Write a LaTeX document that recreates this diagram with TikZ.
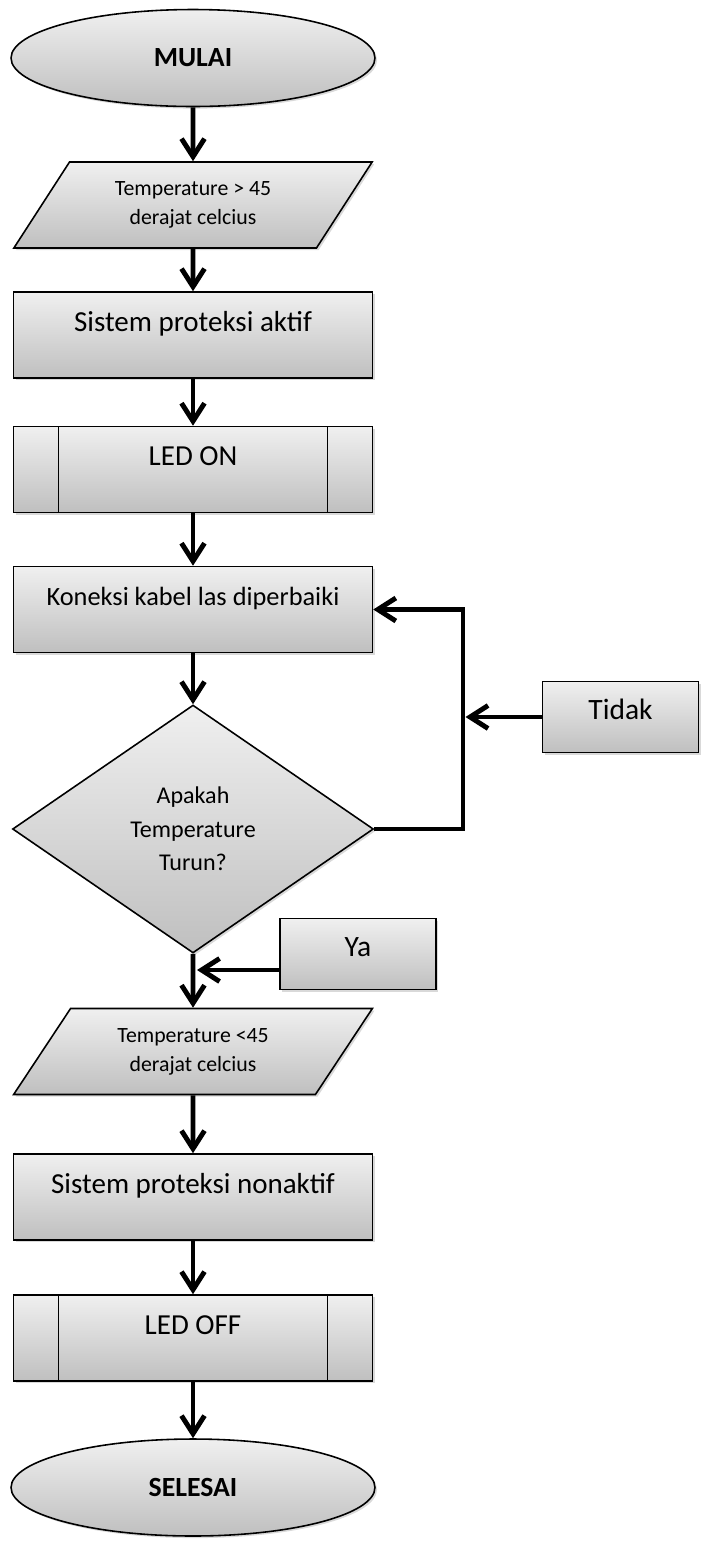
\documentclass[tikz,border=0pt]{standalone}
\usepackage{fontspec}
\setmainfont{Carlito}
\usetikzlibrary{shapes.geometric, arrows.meta, shadows}
\tikzstyle{base} = [draw=black, line width=0.9pt, top color=gray!12, bottom color=gray!50, drop shadow={shadow xshift=1.2pt, shadow yshift=-1.2pt, opacity=0.3}]
\tikzstyle{terminal} = [base, ellipse, minimum width=7.28cm, minimum height=1.94cm, inner sep=0, font=\fontsize{15.8}{18}\selectfont\bfseries]
\tikzstyle{io} = [base, trapezium, trapezium left angle=53, trapezium right angle=127, trapezium stretches=true, minimum width=7.18cm, minimum height=1.72cm, inner sep=0, align=center, font=\fontsize{12.4}{16.5}\selectfont]
\tikzstyle{process} = [base, rectangle, minimum width=7.18cm, minimum height=1.72cm, text height=0.4cm, text depth=0.55cm, font=\fontsize{16.5}{19}\selectfont]
\tikzstyle{subproc} = [process, path picture={\draw[line width=0.9pt] ([xshift=0.9cm]path picture bounding box.north west) -- ([xshift=0.9cm]path picture bounding box.south west) ([xshift=-0.9cm]path picture bounding box.north east) -- ([xshift=-0.9cm]path picture bounding box.south east);}]
\tikzstyle{decision} = [base, diamond, aspect=1.456, minimum width=7.22cm, minimum height=4.96cm, inner sep=0, align=center, font=\fontsize{13.7}{19}\selectfont]
\tikzstyle{note} = [base, rectangle, minimum width=3.12cm, minimum height=1.42cm, text height=0.4cm, text depth=0.29cm, font=\fontsize{16.8}{19}\selectfont]
\tikzstyle{arrow} = [line width=2.8pt, -{Straight Barb[length=3.6mm,width=4.6mm]}]
\begin{document}
\begin{tikzpicture}[x=0.02cm, y=-0.02cm]
\useasboundingbox (0,0) rectangle (702,1543);

\node (mulai) [terminal] at (193,58) {MULAI};
\node (suhu1) [io] at (193,205) {Temperature > 45\\derajat celcius};
\node (aktif) [process] at (193,335) {Sistem proteksi aktif};
\node (ledon) [subproc] at (193,469.5) {LED ON};
\node (koneksi) [process, font=\fontsize{15}{18}\selectfont] at (193,609.5) {Koneksi kabel las diperbaiki};
\node (cek) [decision] at (193,829) {Apakah\\Temperature\\Turun?};
\node (tidak) [note] at (620.5,717) {Tidak};
\node (ya) [note] at (358,954) {Ya};
\node (suhu2) [io] at (193,1051.5) {Temperature <45\\derajat celcius};
\node (nonaktif) [process] at (193,1197) {Sistem proteksi nonaktif};
\node (ledoff) [subproc] at (193,1338) {LED OFF};
\node (selesai) [terminal] at (193,1487.5) {SELESAI};

\foreach \a/\b in {mulai/suhu1, suhu1/aktif, aktif/ledon, ledon/koneksi, koneksi/cek, cek/suhu2, suhu2/nonaktif, nonaktif/ledoff, ledoff/selesai}
	\draw[arrow] (\a.south) -- (\b.north);

% loop back when not cooled down
\coordinate (balik) at (463,609.5);
\draw[arrow] (cek.east) -| (balik) -- (koneksi.east);
\draw[arrow] (tidak.west) -- ([xshift=0.05cm]tidak.west -| balik);

\coordinate (gabung) at (197,970);
\draw[arrow] (ya.west |- gabung) -- (gabung);
\end{tikzpicture}
\end{document}
